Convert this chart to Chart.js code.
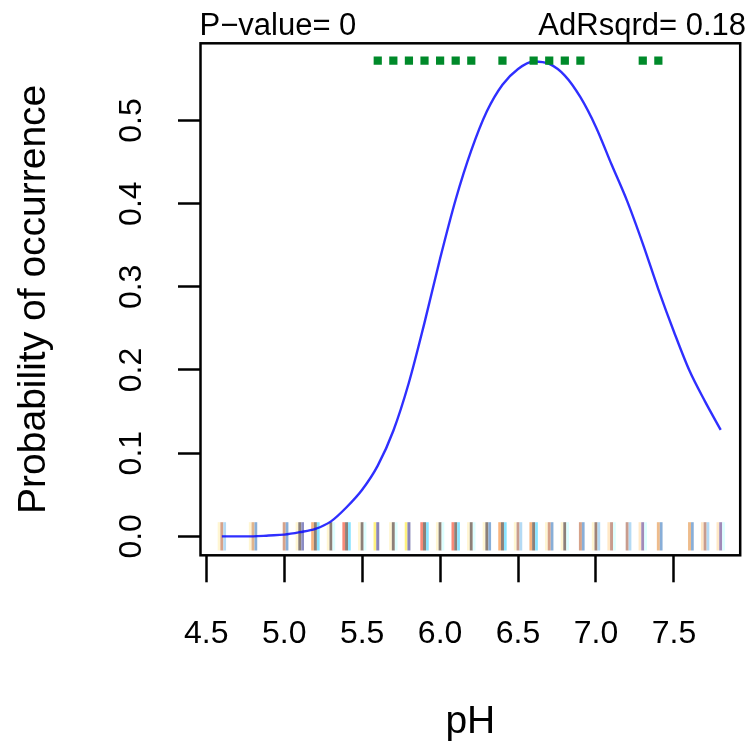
<!DOCTYPE html>
<html>
<head>
<meta charset="utf-8">
<title>Probability of occurrence vs pH</title>
<script src="https://cdn.jsdelivr.net/npm/chart.js@4.4.1/dist/chart.umd.min.js"></script>
<style>
  html, body { margin: 0; padding: 0; background: #fff; }
  #wrap { position: relative; width: 746px; height: 749px; }
</style>
</head>
<body>
<div id="wrap"><canvas id="chart"></canvas></div>
<script>
// fitted response curve
const curvePH = [4.6, 4.7, 4.8, 4.9, 5.0, 5.1, 5.2, 5.3, 5.4, 5.5, 5.6, 5.7, 5.8, 5.9, 6.0, 6.1, 6.2,
  6.3, 6.4, 6.5, 6.6, 6.7, 6.8, 6.9, 7.0, 7.1, 7.2, 7.3, 7.4, 7.5, 7.6, 7.7, 7.8];
const curveProb = [0.000, 0.000, 0.000, 0.001, 0.002, 0.005, 0.009, 0.018, 0.035, 0.056, 0.085, 0.127, 0.185,
  0.257, 0.334, 0.405, 0.464, 0.511, 0.543, 0.562, 0.571, 0.568, 0.554, 0.528, 0.492, 0.447, 0.403,
  0.352, 0.297, 0.246, 0.199, 0.162, 0.128];

// presences, drawn as green squares along the top
const presencePH = [5.6, 5.7, 5.8, 5.9, 6.0, 6.1, 6.2, 6.4, 6.6, 6.7, 6.8, 6.9, 7.3, 7.4];
const presenceProb = [0.572, 0.572, 0.572, 0.572, 0.572, 0.572, 0.572, 0.572, 0.572, 0.572, 0.572, 0.572, 0.572, 0.572];

// rug of sampled pH values, three coloured strokes each
const rugPH = [4.6, 4.8, 5.0, 5.1, 5.2, 5.3, 5.4, 5.5, 5.6, 5.7, 5.8, 5.9, 6.0, 6.1, 6.2, 6.3, 6.4, 6.5,
  6.6, 6.7, 6.8, 6.9, 7.0, 7.1, 7.2, 7.3, 7.4, 7.6, 7.7, 7.8];
const rugLeft = ['#fff6d2', '#fff6d2', null, '#fff6d2', '#f8b47e', '#fff6d2', '#f88a78', '#fff6d2', '#fff27e',
  '#fff6d2', '#fff27e', '#f88a78', '#fff6d2', '#f88a78', '#fff6d2', '#fff6d2', '#f8b47e', '#fff6d2',
  '#f8b47e', '#fff6d2', '#fff6d2', null, '#fff6d2', '#ffe8c6', null, '#ffe8c6', null, null, '#ffe8c6', '#ffe8c6'];
const rugMid = ['#d6a28a', '#e0b48c', '#d6a28a', '#8c8078', '#8c8078', '#8c8078', '#8c8078', '#8c8078', '#8a86b8',
  '#8c8078', '#8a86b8', '#8c8078', '#8c8078', '#8c8078', '#8c8078', '#8c8078', '#8c8078', '#c89c8e',
  '#8c8078', '#d6a28a', '#8c8078', '#d6a28a', '#a08478', '#c89c8e', '#c89c8e', '#a08ab8', '#eebc8c',
  '#eebc8c', '#c89c8e', '#a08ab8'];
const rugRight = ['#b4daf4', '#88aed8', '#88aed8', '#8a8cc4', '#8ae4ff', '#ddffff', '#8ae4ff', '#ddffff', null,
  '#ddffff', null, '#8ae4ff', '#ddffff', '#8ae4ff', '#ddffff', '#88aed8', '#8ae4ff', '#b4daf4',
  '#8ae4ff', '#88aed8', '#ddffff', '#88aed8', '#b4daf4', '#ddffff', '#b4daf4', '#ddffff', '#88aed8',
  '#88aed8', '#b4daf4', '#ddffff'];

const xTicks = [4.5, 5.0, 5.5, 6.0, 6.5, 7.0, 7.5];
const xTickLabels = ['4.5', '5.0', '5.5', '6.0', '6.5', '7.0', '7.5'];
const yTicks = [0, 0.1, 0.2, 0.3, 0.4, 0.5];
const yTickLabels = ['0.0', '0.1', '0.2', '0.3', '0.4', '0.5'];

const pValueText = 'P\u2212value= 0';
const adRsqText = 'AdRsqrd= 0.18';

Chart.defaults.font.family = "'Liberation Sans', Arial, sans-serif";
Chart.defaults.color = '#000';

// rug strokes under the curve
const rugPlugin = {
  id: 'rug',
  beforeDatasetsDraw(chart) {
    const { ctx, scales: { x, y } } = chart;
    const top = y.getPixelForValue(0.017);
    const bot = y.getPixelForValue(-0.017);
    ctx.save();
    rugPH.forEach((v, i) => {
      const px = x.getPixelForValue(v);
      const parts = [[rugLeft[i], px - 4.2, 2.7], [rugMid[i], px - 1.5, 3], [rugRight[i], px + 1.5, 2.7]];
      parts.forEach(([c, x0, w]) => {
        if (!c) return;
        ctx.fillStyle = c;
        ctx.fillRect(x0, top, w, bot - top);
      });
    });
    ctx.restore();
  }
};

// box round the plot region and the two stats lines above it
const framePlugin = {
  id: 'frame',
  afterDraw(chart) {
    const { ctx, chartArea: a } = chart;
    ctx.save();
    ctx.strokeStyle = '#000';
    ctx.lineWidth = 2.5;
    ctx.strokeRect(a.left, a.top, a.right - a.left, a.bottom - a.top);
    ctx.fillStyle = '#000';
    ctx.font = "31px 'Liberation Sans', Arial, sans-serif";
    ctx.textBaseline = 'alphabetic';
    ctx.textAlign = 'left';
    ctx.fillText(pValueText, a.left - 1, 35);
    ctx.textAlign = 'right';
    ctx.fillText(adRsqText, 746, 35);
    ctx.restore();
  }
};

new Chart(document.getElementById('chart'), {
  type: 'scatter',
  data: {
    datasets: [
      {
        label: 'presence',
        data: presencePH.map((v, i) => ({ x: v, y: presenceProb[i] })),
        pointStyle: 'rect',
        pointRadius: 5.8,
        pointBackgroundColor: '#008a2a',
        pointBorderWidth: 0,
        showLine: false
      },
      {
        label: 'fitted',
        data: curvePH.map((v, i) => ({ x: v, y: curveProb[i] })),
        showLine: true,
        borderColor: 'rgba(10, 10, 255, 0.85)',
        borderWidth: 2.4,
        pointRadius: 0,
        cubicInterpolationMode: 'monotone'
      }
    ]
  },
  options: {
    responsive: true,
    maintainAspectRatio: false,
    animation: false,
    events: [],
    layout: { padding: { top: 43.3, right: 1, left: 0, bottom: 0 } },
    plugins: { legend: { display: false }, tooltip: { enabled: false } },
    scales: {
      x: {
        type: 'linear',
        min: 4.463,
        max: 7.925,
        afterBuildTicks: s => { s.ticks = xTicks.map(v => ({ value: v })); },
        afterFit: s => { s.height = 193.7; },
        ticks: {
          callback: (v, i) => xTickLabels[i],
          font: { size: 32 },
          padding: 33,
          maxRotation: 0
        },
        grid: { display: true, drawOnChartArea: false, drawTicks: true, tickLength: 27, tickWidth: 2.5, tickColor: '#000' },
        border: { display: false },
        title: { display: true, text: 'pH', font: { size: 39 }, padding: { top: 0, bottom: 3 } }
      },
      y: {
        type: 'linear',
        min: -0.0228,
        max: 0.5928,
        afterBuildTicks: s => { s.ticks = yTicks.map(v => ({ value: v })); },
        afterFit: s => { s.width = 200.5; },
        ticks: {
          callback: (v, i) => yTickLabels[i],
          font: { size: 32 },
          padding: 24,
          minRotation: 90,
          maxRotation: 90,
          crossAlign: 'center'
        },
        grid: { display: true, drawOnChartArea: false, drawTicks: true, tickLength: 22.5, tickWidth: 2.5, tickColor: '#000' },
        border: { display: false },
        title: { display: true, text: 'Probability of occurrence', font: { size: 39 }, padding: { top: 11, bottom: 0 } }
      }
    }
  },
  plugins: [rugPlugin, framePlugin]
});
</script>
</body>
</html>
